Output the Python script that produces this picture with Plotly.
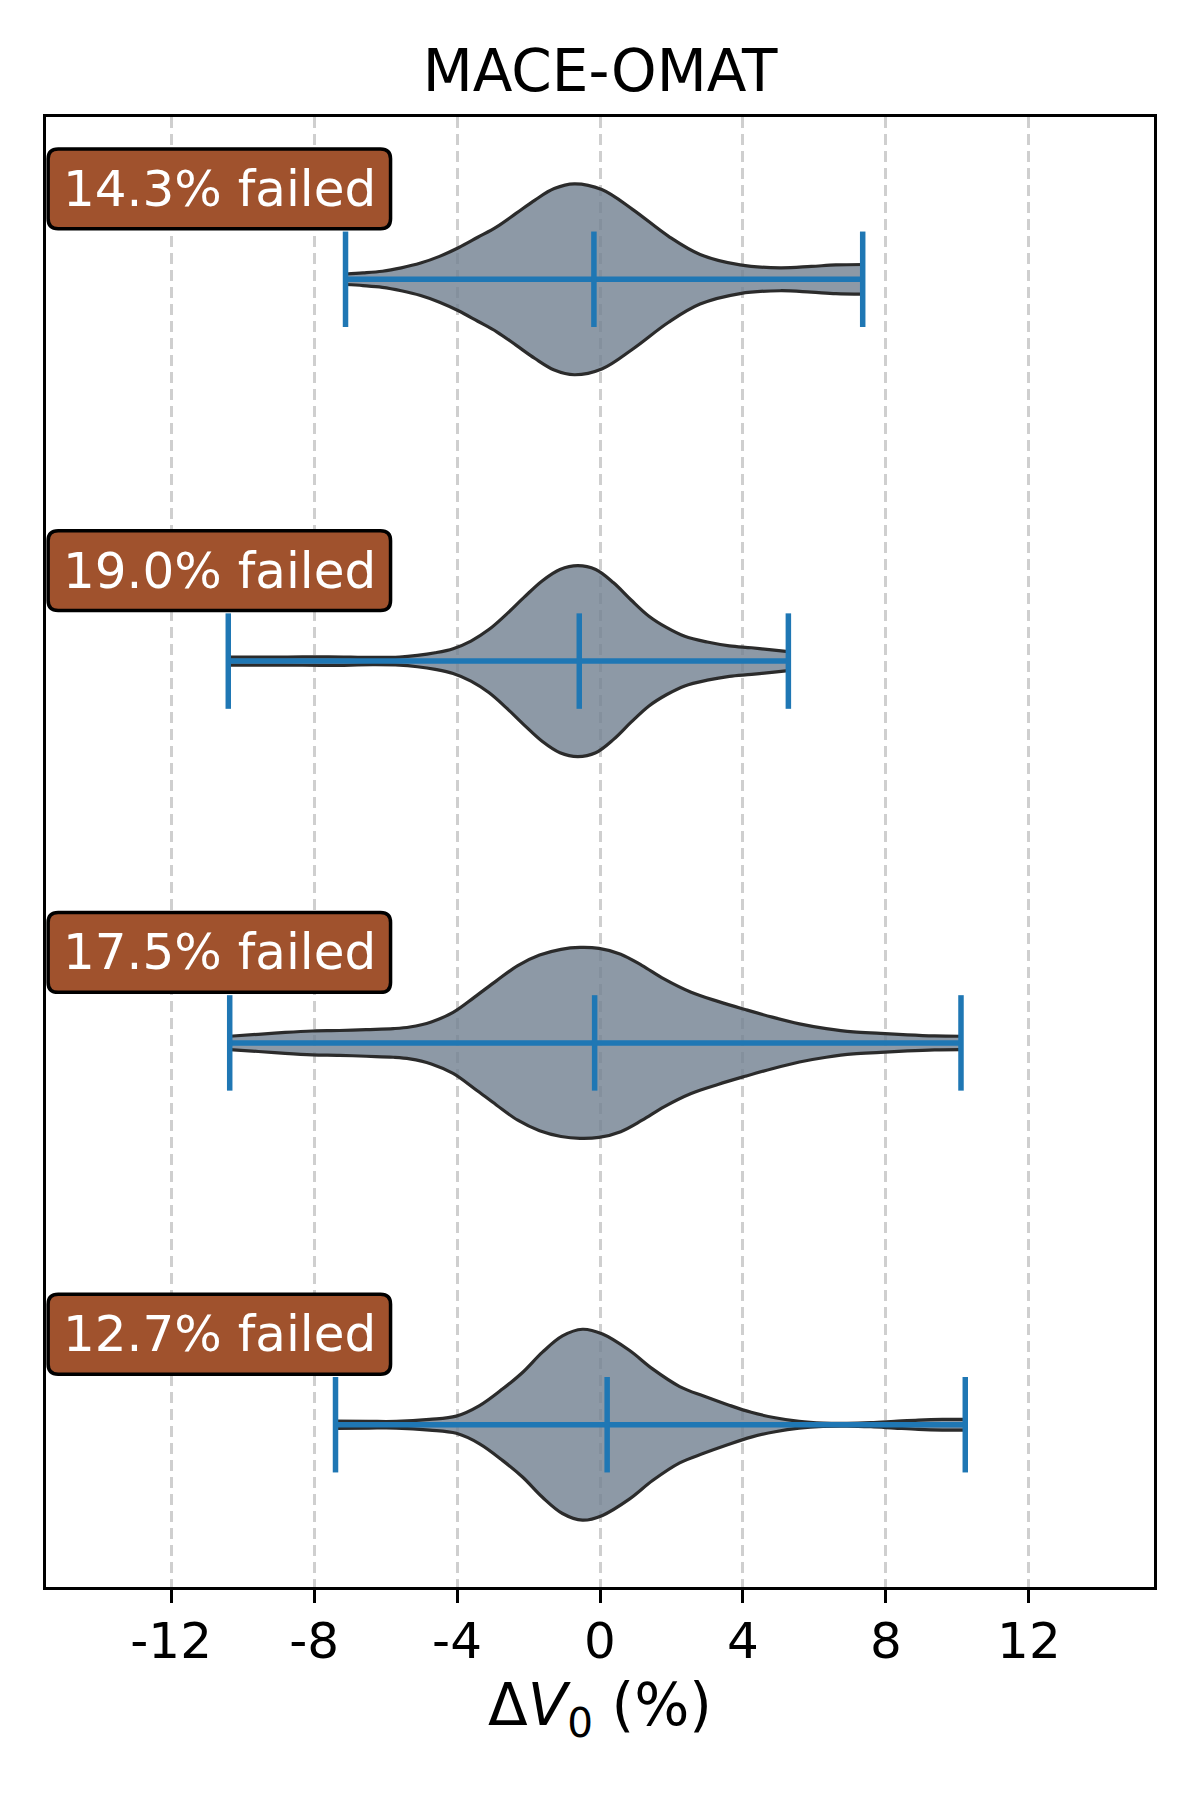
import plotly.graph_objects as go

# violin rows, top to bottom
positions = [4, 3, 2, 1]
fail_labels = ["14.3% failed", "19.0% failed", "17.5% failed", "12.7% failed"]
dv_min = [-7.12, -10.40, -10.36, -7.40]
dv_max = [7.35, 5.27, 10.10, 10.22]
dv_mid = [-0.17, -0.58, -0.15, 0.20]

# density outlines: x position and relative half-width (1 = widest)
profile_x_1 = [-7.11, -6.63, -6.09, -5.56, -5.02, -4.49, -3.96, -3.42, -2.89, -2.35, -1.82, -1.28,
               -0.72, 0.05, 0.92, 1.92, 2.80, 3.92, 5.04, 5.91, 6.6, 7.35]
profile_w_1 = [0.055, 0.066, 0.084, 0.12, 0.17, 0.24, 0.33, 0.44, 0.55, 0.69, 0.83, 0.95,
               1.0, 0.94, 0.73, 0.45, 0.26, 0.15, 0.12, 0.135, 0.15, 0.155]
profile_x_2 = [-10.40, -8.85, -7.60, -6.36, -5.61, -5.11, -4.61, -4.11, -3.61, -3.11, -2.62, -2.12,
               -1.62, -1.12, -0.62, -0.12, 0.38, 0.87, 1.37, 1.87, 2.37, 3.0, 3.62, 4.24, 4.87, 5.27]
profile_w_2 = [0.042, 0.042, 0.045, 0.038, 0.042, 0.059, 0.087, 0.13, 0.21, 0.33, 0.49, 0.67,
               0.84, 0.96, 1.0, 0.96, 0.82, 0.64, 0.47, 0.35, 0.26, 0.20, 0.16, 0.14, 0.115, 0.10]
profile_x_3 = [-10.36, -9.56, -8.81, -8.05, -7.29, -6.54, -5.78, -5.32, -4.72, -4.11, -3.51, -2.90,
               -2.30, -1.69, -1.09, -0.56, -0.03, 0.58, 1.18, 1.79, 2.55, 3.30, 4.06, 4.82, 5.58,
               6.33, 7.09, 7.85, 8.60, 9.36, 10.10]
profile_w_3 = [0.07, 0.09, 0.11, 0.125, 0.13, 0.14, 0.15, 0.167, 0.22, 0.32, 0.48, 0.65,
               0.81, 0.92, 0.98, 1.0, 0.99, 0.93, 0.81, 0.67, 0.53, 0.435, 0.35, 0.27, 0.20,
               0.15, 0.115, 0.10, 0.084, 0.073, 0.07]
profile_x_4 = [-7.40, -6.46, -5.70, -4.77, -4.02, -3.37, -2.72, -2.16, -1.61, -1.05, -0.49, 0.07,
               0.82, 1.47, 2.23, 2.90, 3.57, 4.23, 4.90, 5.57, 6.24, 6.91, 7.58, 8.24, 8.91,
               9.58, 10.22]
profile_w_4 = [0.038, 0.035, 0.035, 0.056, 0.09, 0.20, 0.376, 0.55, 0.76, 0.93, 1.0, 0.95,
               0.78, 0.585, 0.40, 0.30, 0.21, 0.13, 0.073, 0.035, 0.017, 0.014, 0.021, 0.035,
               0.049, 0.056, 0.056]

profiles_x = [profile_x_1, profile_x_2, profile_x_3, profile_x_4]
profiles_w = [profile_w_1, profile_w_2, profile_w_3, profile_w_4]

tick_vals = [-12, -8, -4, 0, 4, 8, 12]
tick_text = ["-12", "-8", "-4", "0", "4", "8", "12"]

HALF_WIDTH = 0.25
CAP = 0.125
FONT = "DejaVu Sans"
BLUE = "#1f77b4"
EDGE = dict(color="#2b2b2b", width=3.2, shape="spline", smoothing=1.0)

fig = go.Figure()

# each violin: lower outline, then upper outline filled down to it
for pos, xs, ws in zip(positions, profiles_x, profiles_w):
    fig.add_trace(go.Scatter(
        x=xs, y=[pos - HALF_WIDTH * w for w in ws], mode="lines",
        line=EDGE, hoverinfo="skip", showlegend=False,
    ))
    fig.add_trace(go.Scatter(
        x=xs, y=[pos + HALF_WIDTH * w for w in ws], mode="lines",
        line=EDGE, fill="tonexty", fillcolor="rgba(112,128,144,0.8)",
        hoverinfo="skip", showlegend=False,
    ))

for pos, lo, hi, mid in zip(positions, dv_min, dv_max, dv_mid):
    xs, ys = [lo, hi, None], [pos, pos, None]
    for v in (lo, mid, hi):
        xs += [v, v, None]
        ys += [pos - CAP, pos + CAP, None]
    fig.add_trace(go.Scatter(
        x=xs, y=ys, mode="lines",
        line=dict(color=BLUE, width=5.5),
        hoverinfo="skip", showlegend=False,
    ))

# "failed" badges: rounded boxes with centred white text
bx0, bx1 = -15.44, -5.86
box_half = 0.1045
rx, ry = 0.28, 0.026
for pos, label in zip(positions, fail_labels):
    yc = pos + 0.237
    y0, y1 = yc - box_half, yc + box_half
    path = (
        f"M {bx0 + rx},{y0} L {bx1 - rx},{y0} Q {bx1},{y0} {bx1},{y0 + ry} "
        f"L {bx1},{y1 - ry} Q {bx1},{y1} {bx1 - rx},{y1} "
        f"L {bx0 + rx},{y1} Q {bx0},{y1} {bx0},{y1 - ry} "
        f"L {bx0},{y0 + ry} Q {bx0},{y0} {bx0 + rx},{y0} Z"
    )
    fig.add_shape(type="path", path=path, xref="x", yref="y",
                  fillcolor="#a0522d", line=dict(color="black", width=3.5), layer="above")
    fig.add_annotation(x=(bx0 + bx1) / 2, y=yc, xref="x", yref="y", text=label,
                       showarrow=False, xanchor="center", yanchor="middle",
                       font=dict(family=FONT, size=50, color="white"))

# page body adds a small offset, margins compensate for it
ml, mr = 38, 54
fig.update_layout(
    width=1200, height=1800,
    margin=dict(l=ml, r=mr, t=109, b=221),
    plot_bgcolor="white", paper_bgcolor="white",
    font=dict(family=FONT, color="black"),
    title=dict(text="MACE-OMAT", x=(ml + (1200 - ml - mr) / 2) / 1200, xanchor="center",
               y=0.965, yanchor="middle",
               font=dict(family=FONT, size=58, color="black")),
)
fig.update_xaxes(
    range=[-15.5, 15.5],
    tickvals=tick_vals, ticktext=tick_text,
    ticks="outside", ticklen=13, tickwidth=2.5, tickcolor="black",
    tickfont=dict(family=FONT, size=50, color="black"),
    ticklabelstandoff=-5,
    showgrid=True, gridcolor="#cfcfcf", gridwidth=2.5, griddash="11px,6px",
    zeroline=False,
    showline=True, linecolor="black", linewidth=3, mirror=True,
    title=dict(text="Δ<i>V</i><sub>0</sub> (%)", standoff=16,
               font=dict(family=FONT, size=58, color="black")),
)
fig.update_yaxes(
    range=[0.575, 4.425],
    showticklabels=False, ticks="", showgrid=False, zeroline=False,
    showline=True, linecolor="black", linewidth=3, mirror=True,
)

fig.write_html("out.html")
